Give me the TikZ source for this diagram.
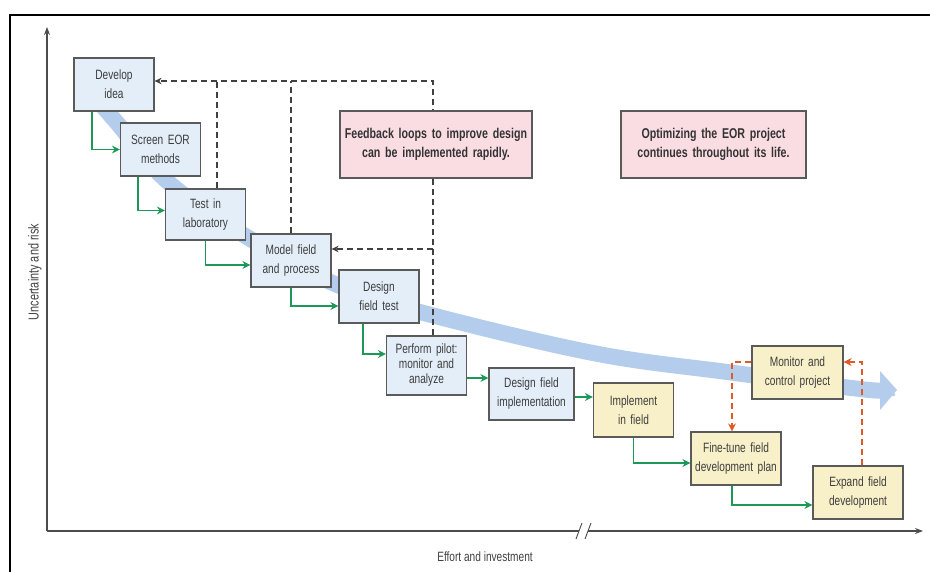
\documentclass[tikz,border=0pt]{standalone}
\usepackage{fontspec}
\setmainfont{Liberation Sans}[FakeStretch=0.75]
\usepackage{tikz}
\usetikzlibrary{arrows, arrows.meta, calc}
\definecolor{stageblue}{HTML}{E4EEF9}
\definecolor{fieldyellow}{HTML}{F8F0C8}
\definecolor{notepink}{HTML}{FADDE3}
\definecolor{bandblue}{HTML}{B5CDEC}
\definecolor{flowgreen}{HTML}{1E9858}
\definecolor{tunered}{HTML}{E05A28}
\definecolor{boxline}{HTML}{5A5A5A}
\definecolor{inktext}{HTML}{3D3D3D}
\tikzstyle{stage} = [rectangle, minimum width=80pt, minimum height=53pt, text centered, text width=74pt, inner xsep=3pt, draw=boxline, fill=stageblue, line width=1.2pt, text=inktext, font=\fontsize{13.5}{19}\selectfont]
\tikzstyle{field} = [stage, fill=fieldyellow]
\tikzstyle{note} = [rectangle, minimum width=192pt, minimum height=67pt, text centered, text width=186pt, inner xsep=3pt, draw=boxline, fill=notepink, line width=1.2pt, text=black!80, font=\fontsize{14.2}{19}\selectfont\bfseries]
\tikzstyle{flow} = [line width=1.6pt, ->, >={Stealth[length=8pt, width=8pt]}, draw=flowgreen]
\tikzstyle{feedback} = [line width=1.1pt, dash pattern=on 6pt off 4pt, ->, >={Stealth[length=7pt, width=6.5pt]}, draw=black!75]
\tikzstyle{retune} = [line width=1.6pt, dash pattern=on 6pt off 4pt, ->, >={Stealth[length=8pt, width=8pt]}, draw=tunered]
\tikzstyle{axisline} = [line width=1.3pt, draw=black!70]
\tikzstyle{axislabel} = [text=black!75, font=\fontsize{13.5}{15}\selectfont]

\begin{document}
\begin{tikzpicture}[x=1pt, y=-1pt, node distance = 65pt]
  \useasboundingbox (0,0) rectangle (930,572);
  \draw [line width=2.5pt] (10,572) -- (10,15) -- (930,15);
  % wide band behind the steps
  \draw [line width=16pt, bandblue] plot [smooth, tension=0.6] coordinates {(99,102) (118,124) (168,182) (247,237) (335,284) (420,312) (593,353) (727,372) (860,389) (882,390)};
  \fill [bandblue] (880,371) -- (897,390) -- (880,410) -- cycle;
  % axes
  \draw [axisline, -{Stealth[length=8pt, width=6pt]}] (47,531) -- (47,27);
  \draw [axisline] (47,531) -- (579,531);
  \draw [axisline, -{Stealth[length=8pt, width=6pt]}] (588,531) -- (923,531);
  \draw [axisline, line width=0.9pt] (576,539) -- (582,523) (585,539) -- (591,523);
  \node (riskaxis) [axislabel, rotate=90, font=\fontsize{14.5}{15}\selectfont] at (35,272) {Uncertainty and risk};
  \node (effortaxis) [axislabel] at (485,557) {Effort and investment};
  % steps
  \node (develop) [stage] at (114,84.5) {Develop\\idea};
  \node (screen) [stage, below of = develop, xshift = 46.5pt] {Screen EOR\\methods};
  \node (test) [stage, below of = screen, xshift = 45pt, minimum height = 51pt] {Test in\\laboratory};
  \node (model) [stage, below of = test, xshift = 85.5pt, yshift = 19pt] {Model field\\and process};
  \node (design) [stage, below of = model, xshift = 88pt, yshift = 29pt] {Design\\field test};
  \node (pilot) [stage, below of = design, xshift = 47.5pt, yshift = -4pt, minimum height = 59pt, font = \fontsize{13.5}{15}\selectfont] {Perform pilot:\\monitor and\\analyze};
  \node (impl) [stage, below of = pilot, xshift = 105pt, yshift = 36.5pt, text width = 79pt, minimum height = 52pt] {Design field\\implementation};
  \node (implement) [field, below of = impl, xshift = 102pt, yshift = 49pt, text width = 71pt, minimum height = 54pt] {Implement\\in field};
  \node (finetune) [field, below of = implement, xshift = 102.5pt, yshift = 16.5pt, text width = 84pt] {Fine-tune field\\development plan};
  \node (expand) [field, below of = finetune, xshift = 122pt, yshift = 31pt, text width = 84pt] {Expand field\\development};
  \node (monitor) [field, above of = expand, xshift = -60.5pt, yshift = 55pt, text width = 85pt] {Monitor and\\control project};
  % forward steps
  \coordinate (pilotout) at ([yshift=-12.5pt]pilot.east);
  \coordinate (implout) at ([yshift=-3pt]impl.east);
  \draw [flow] ([xshift=-22pt]develop.south) |- (screen.west);
  \draw [flow] ([xshift=-22.5pt]screen.south) |- ([yshift=4pt]test.west);
  \draw [flow] (test.south) |- ([yshift=-4.5pt]model.west);
  \draw [flow] (model.south) |- ([yshift=-9.5pt]design.west);
  \draw [flow] ([xshift=-16pt]design.south) |- ([yshift=11.5pt]pilot.west);
  \draw [flow] (pilotout) -- (pilotout -| impl.west);
  \draw [flow] (implout) -- (implout -| implement.west);
  \draw [flow] (implement.south) |- ([yshift=-4.5pt]finetune.west);
  \draw [flow] ([xshift=-4pt]finetune.south) |- ([yshift=-12.5pt]expand.west);
  % field loop
  \draw [retune] ([yshift=10.5pt]monitor.west) -| ([xshift=-4pt]finetune.north);
  \draw [retune] ([xshift=4pt]expand.north) |- ([yshift=10.5pt]monitor.east);
  % feedback loops
  \coordinate (pilottap) at ([xshift=6.5pt]pilot.north);
  \coordinate (labtap) at ([xshift=11.5pt]test.north);
  \coordinate (looptop) at ([yshift=3.5pt]develop.east);
  \coordinate (modelin) at ([yshift=11.5pt]model.east);
  \draw [feedback] (pilottap) |- (looptop);
  \draw [feedback, -] (labtap) -- (labtap |- looptop);
  \draw [feedback, -] (model.north) -- (model.north |- looptop);
  \draw [feedback] (pilottap |- modelin) -- (modelin);
  % notes
  \node (loopnote) [note, right of = develop, xshift = 257pt, yshift = -60pt] {Feedback loops to improve design\\can be implemented rapidly.};
  \node (lifenote) [note, right of = loopnote, xshift = 212.5pt, minimum width = 185pt, text width = 179pt] {Optimizing the EOR project\\continues throughout its life.};
\end{tikzpicture}
\end{document}
